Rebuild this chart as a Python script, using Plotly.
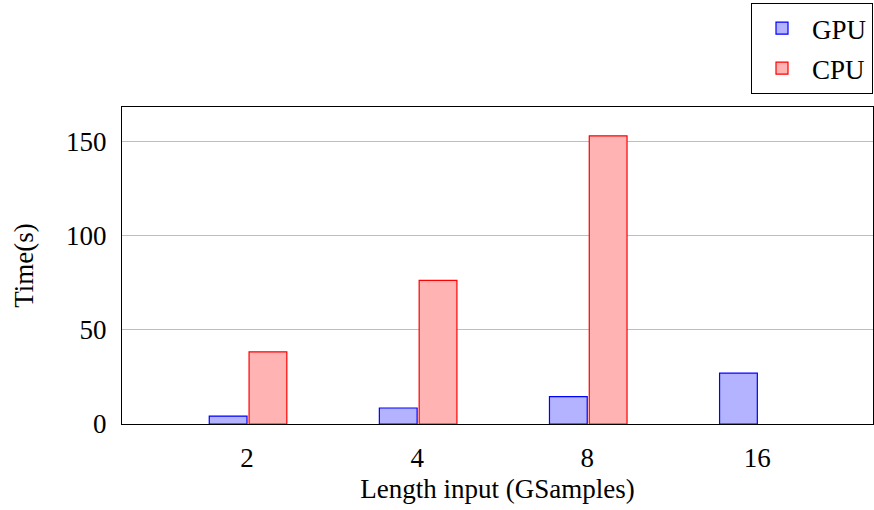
import plotly.graph_objects as go

categories = ["2", "4", "8", "16"]
gpu_times = [4.2, 8.5, 14.5, 27.0]
cpu_times = [38.3, 76.3, 153.0, None]
y_ticks = [0, 50, 100, 150]

FONT = "Liberation Serif, DejaVu Serif, serif"
FS = 27

fig = go.Figure()
fig.add_trace(go.Bar(
    x=categories, y=gpu_times, name="GPU", legendgroup="g",
    width=0.222, offset=-0.222,
    marker=dict(color="rgb(179,179,255)", line=dict(color="blue", width=1.2)),
))
fig.add_trace(go.Bar(
    x=categories, y=cpu_times, name="CPU", legendgroup="c",
    width=0.222, offset=0.012,
    marker=dict(color="rgb(255,179,179)", line=dict(color="red", width=1.2)),
))

fig.update_layout(
    width=874, height=510,
    margin=dict(l=122, r=1, t=107, b=86),
    plot_bgcolor="white", paper_bgcolor="white",
    font=dict(family=FONT, size=FS, color="black"),
    showlegend=True,
    legend=dict(
        x=1.0, xanchor="right", y=1.328, yanchor="top",
        bordercolor="black", borderwidth=1, bgcolor="white",
        font=dict(family=FONT, size=FS),
        tracegroupgap=2, itemwidth=50,
    ),
    xaxis=dict(
        type="category", categoryorder="array", categoryarray=categories,
        range=[-0.735, 3.68],
        showline=True, linecolor="black", linewidth=1, mirror=True,
        ticks="", showgrid=False,
        ticklabelstandoff=10,
        tickfont=dict(family=FONT, size=FS),
        title=dict(text="Length input (GSamples)", font=dict(family=FONT, size=FS), standoff=6),
    ),
    yaxis=dict(
        range=[0, 168.3],
        tickvals=y_ticks,
        showline=True, linecolor="black", linewidth=1, mirror=True,
        showgrid=True, gridcolor="rgb(190,190,190)", gridwidth=1,
        zeroline=False, ticks="",
        ticklabelstandoff=9,
        tickfont=dict(family=FONT, size=FS),
        title=dict(text="Time(s)", font=dict(family=FONT, size=FS), standoff=24),
    ),
)

fig.write_html("out.html")
